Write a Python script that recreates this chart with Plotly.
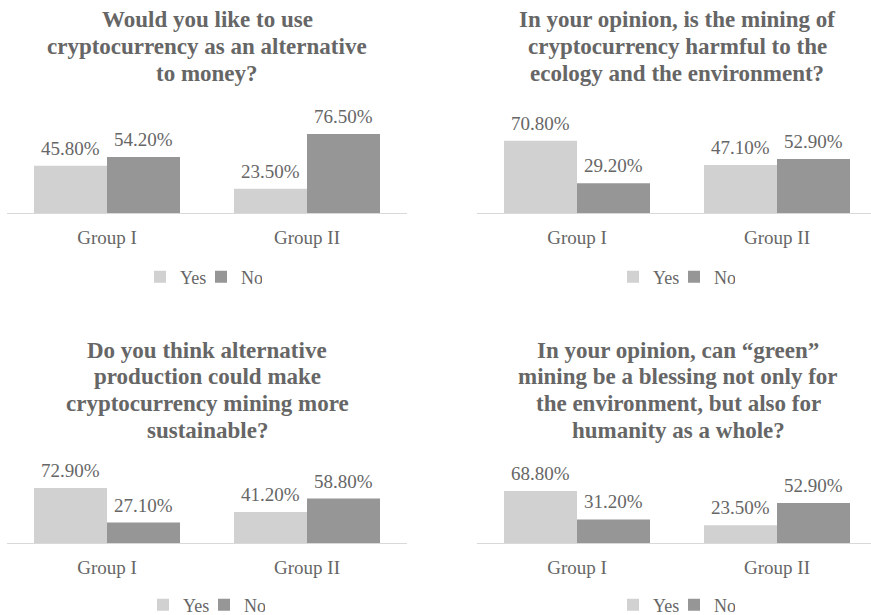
import plotly.graph_objects as go

# ---------------- data ----------------
groups = ["Group I", "Group II"]
series_names = ["Yes", "No"]

yes_vals = [
    [45.8, 23.5],
    [70.8, 47.1],
    [72.9, 41.2],
    [68.8, 23.5],
]
no_vals = [
    [54.2, 76.5],
    [29.2, 52.9],
    [27.1, 58.8],
    [31.2, 52.9],
]

titles = [
    ["Would you like to use", "cryptocurrency as an alternative", "to money?"],
    ["In your opinion, is the mining of", "cryptocurrency harmful to the",
     "ecology and the environment?"],
    ["Do you think alternative", "production could make",
     "cryptocurrency mining more", "sustainable?"],
    ["In your opinion, can \u201cgreen\u201d", "mining be a blessing not only for",
     "the environment, but also for", "humanity as a whole?"],
]

# ---------------- style / layout ----------------
W, H = 871, 615
FONT = "Liberation Serif"
TXT = "#666666"
C_YES = "#d0d1d0"
C_NO = "#969696"
AXIS = "#d9d9d9"

# panel geometry in pixels
panels = [
    dict(x0=7, x1=407, base=213, ppp=1.033, tcx=207, ty=20, lcx=201, ly=277),
    dict(x0=477, x1=877, base=213, ppp=1.02, tcx=677, ty=20, lcx=674, ly=277),
    dict(x0=7, x1=407, base=543, ppp=0.755, tcx=207, ty=350, lcx=204, ly=605),
    dict(x0=477, x1=877, base=543, ppp=0.755, tcx=678, ty=350, lcx=674, ly=605),
]
LINE_H = 26.7
BARGAP = 0.27


def fx(px):
    return px / W


def fy(py):
    return 1 - py / H


fig = go.Figure()
annotations = []
layout_extra = {}

for i, p in enumerate(panels):
    n = i + 1
    xa = "x" if n == 1 else f"x{n}"
    ya = "y" if n == 1 else f"y{n}"
    lg = "legend" if n == 1 else f"legend{n}"

    for name, vals, col in [("Yes", yes_vals[i], C_YES), ("No", no_vals[i], C_NO)]:
        fig.add_trace(go.Bar(
            x=groups, y=vals, name=name, marker_color=col,
            marker_line_width=0, xaxis=xa, yaxis=ya, legend=lg,
            offsetgroup=name, hoverinfo="x+y+name",
        ))

    # axis geometry (clip to the figure)
    span = p["x1"] - p["x0"]
    v0 = max(p["x0"], 0)
    v1 = min(p["x1"], W)
    dom_x = [fx(v0), fx(v1)]
    rng_x = [-0.5 + 2 * (v0 - p["x0"]) / span, -0.5 + 2 * (v1 - p["x0"]) / span]
    dom_y = [fy(p["base"]), fy(p["base"] - 100 * p["ppp"])]

    layout_extra["xaxis" if n == 1 else f"xaxis{n}"] = dict(
        domain=dom_x, range=rng_x, type="category", anchor=ya,
        showline=True, linecolor=AXIS, linewidth=1.3, ticks="",
        showgrid=False, zeroline=False, ticklabelstandoff=7,
        tickfont=dict(family=FONT, size=19, color=TXT), fixedrange=True,
    )
    layout_extra["yaxis" if n == 1 else f"yaxis{n}"] = dict(
        domain=dom_y, range=[0, 100], visible=False, anchor=xa,
        showgrid=False, zeroline=False, fixedrange=True,
    )
    layout_extra[lg] = dict(
        orientation="h", x=fx(p["lcx"]), y=fy(p["ly"]),
        xanchor="center", yanchor="middle",
        font=dict(family=FONT, size=18, color=TXT),
        bgcolor="rgba(0,0,0,0)", itemwidth=30, tracegroupgap=0,
        entrywidth=16, entrywidthmode="pixels",
    )

    # bar offsets in px: bar width = (1-gap)/2 category units
    cat_px = span / 2
    off = (1 - BARGAP) / 4 * cat_px
    for g, yv, nv in zip(groups, yes_vals[i], no_vals[i]):
        for v, s in [(yv, -off), (nv, off)]:
            annotations.append(dict(
                x=g, y=v, xref=xa, yref=ya, text=f"{v:.2f}%",
                showarrow=False, xshift=s, yshift=17.5, yanchor="middle",
                font=dict(family=FONT, size=19, color=TXT),
            ))

    # title lines
    for k, line in enumerate(titles[i]):
        annotations.append(dict(
            x=fx(p["tcx"]), y=fy(p["ty"] + k * LINE_H), xref="paper", yref="paper",
            text=f"<b>{line}</b>", showarrow=False, xanchor="center", yanchor="middle",
            font=dict(family=FONT, size=23, color=TXT),
        ))

fig.update_layout(
    width=W, height=H, autosize=False,
    margin=dict(l=0, r=0, t=0, b=0, autoexpand=False),
    paper_bgcolor="white", plot_bgcolor="white",
    barmode="group", bargap=BARGAP, bargroupgap=0,
    annotations=annotations,
    **layout_extra,
)

fig.write_html(
    "out.html",
    config={"displayModeBar": False},
    post_script=(
        "document.documentElement.style.margin='0';"
        "document.body.style.margin='0';"
        "document.documentElement.style.overflow='hidden';"
        "document.body.style.overflow='hidden';"
    ),
)
